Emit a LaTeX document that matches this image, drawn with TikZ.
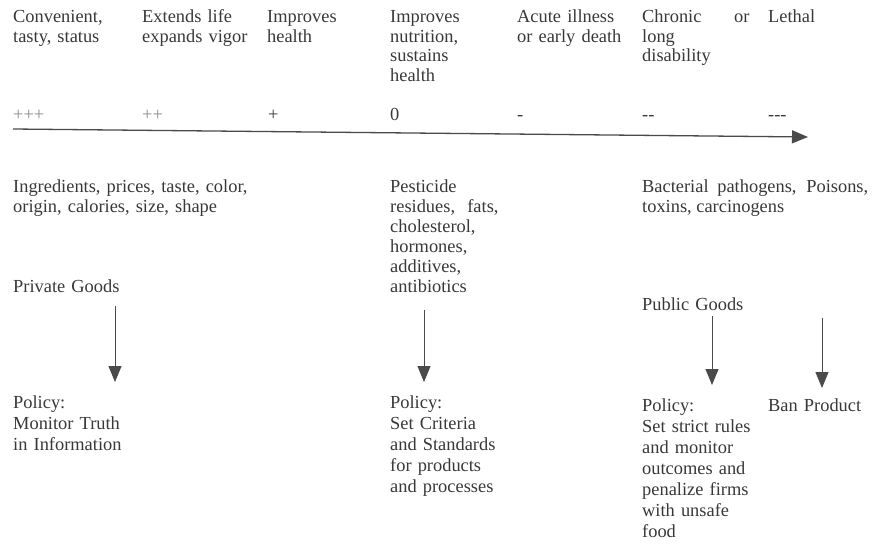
\documentclass[tikz,border=0pt]{standalone}
\usepackage{fontspec}
\setmainfont{Liberation Serif}
\usetikzlibrary{arrows.meta}
\definecolor{ink}{HTML}{383838}
\definecolor{faint}{HTML}{8C8C8C}
\definecolor{line}{HTML}{4A4A4A}
\begin{document}
\begin{tikzpicture}[x=1pt,y=-1pt,>={Triangle[length=16pt,width=13pt]},
  text node/.style={anchor=base west,inner sep=0pt,text width=250pt,align=left,text=ink,font=\fontsize{18.4}{20.5}\selectfont},
  head node/.style={text node,font=\fontsize{18.4}{19.5}\selectfont},
  sign node/.style={text node},
  policy node/.style={text node,font=\fontsize{18.4}{21}\selectfont}]%
\useasboundingbox (0,0) rectangle (873,551);
% scale of outcomes
\begin{scope}
\node[head node] (h1) at (13,23) {Convenient,\\tasty, status};
\node[head node] (h2) at (142,23) {Extends life\\expands vigor};
\node[head node] (h3) at (267,23) {Improves\\health};
\node[head node] (h4) at (390,23) {Improves\\nutrition,\\sustains\\health};
\node[head node] (h5) at (517,23) {Acute illness\\or early death};
\node[head node] (h6) at (642,23) {Chronic\\long\\disability};
\node[head node,text width=30pt] (h6or) at (734,23) {or};
\node[head node,text width=80pt] (h7) at (768,23) {Lethal};
\end{scope}
\begin{scope}
\node[sign node,text=faint] (s1) at (13,121) {+++};
\node[sign node,text=faint] (s2) at (142,121) {++};
\node[sign node] (s3) at (268,121) {+};
\node[sign node] (s4) at (390,121) {0};
\node[sign node] (s5) at (517,121) {-};
\node[sign node] (s6) at (642,121) {{-}{-}};
\node[sign node,text width=80pt] (s7) at (768,121) {{-}{-}{-}};
\end{scope}
\coordinate (ax0) at (13,129);
\coordinate (ax1) at (808,137);
\draw[line,line width=1.3pt,->] (ax0) -- (ax1);
% attributes
\node[text node,text width=260pt] (c1) at (13,192) {Ingredients, prices, taste, color,\\origin, calories, size, shape};
\node[text node,font=\fontsize{18.4}{20}\selectfont] (c2) at (390,192) {Pesticide\\residues,\ \ fats,\\cholesterol,\\hormones,\\additives,\\antibiotics};
\node[text node,text width=226pt,align=justify] (c3) at (642,192) {Bacterial pathogens, Poisons, toxins, carcinogens};
\node[text node] (g1) at (13,292) {Private Goods};
\node[text node,text width=200pt] (g2) at (642,310) {Public Goods};
% policies
\node[policy node] (p1) at (13,408) {Policy:\\Monitor\ Truth\\in Information};
\node[policy node] (p2) at (390,408) {Policy:\\Set Criteria\\and Standards\\for products\\and processes};
\node[policy node,text width=120pt] (p3) at (642,411) {Policy:\\Set strict rules\\and monitor\\outcomes and\\penalize firms\\with unsafe\\food};
\node[policy node,text width=100pt] (p4) at (768,411) {Ban Product};
\coordinate (a1) at (115,306);
\coordinate (b1) at (115,382);
\coordinate (a2) at (424,310);
\coordinate (b2) at (424,382);
\coordinate (a3) at (712,316);
\coordinate (b3) at (712,385);
\coordinate (a4) at (822,318);
\coordinate (b4) at (822,388);
\begin{scope}[every edge/.style={draw=line,line width=1pt,->}]
\draw (a1) edge (b1);
\draw (a2) edge (b2);
\draw (a3) edge (b3);
\draw (a4) edge (b4);
\end{scope}
\end{tikzpicture}
\end{document}
